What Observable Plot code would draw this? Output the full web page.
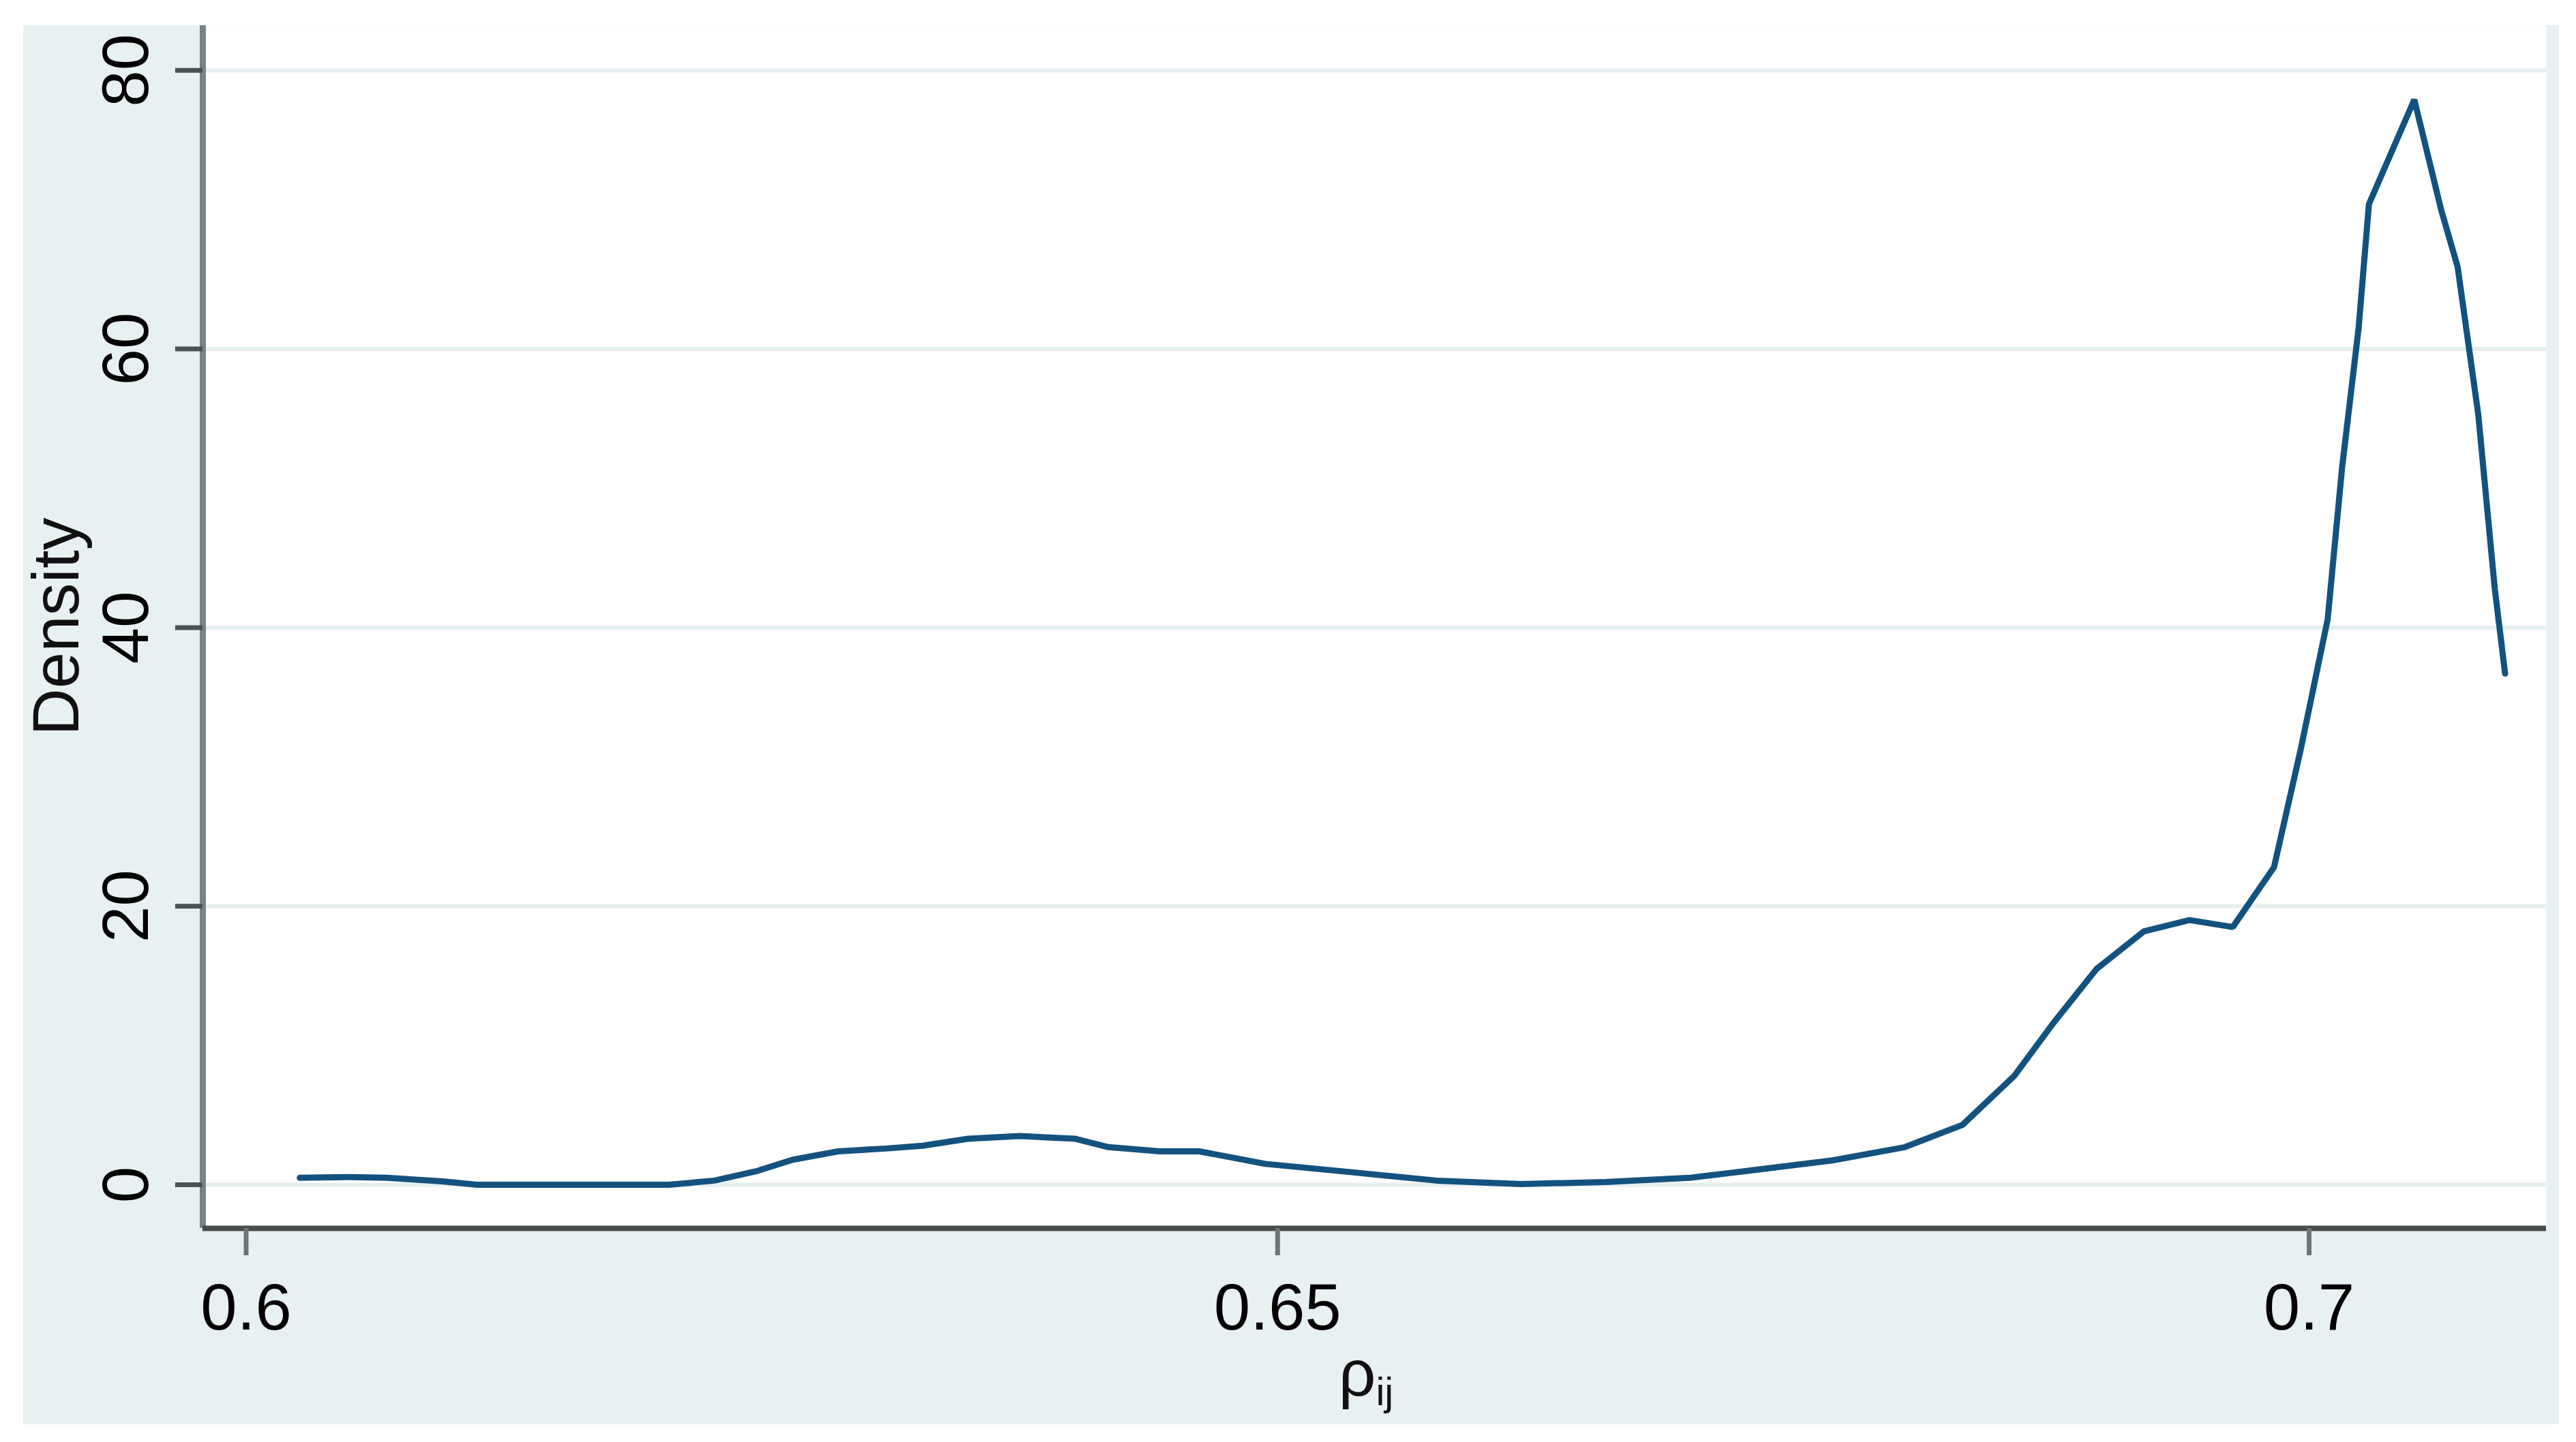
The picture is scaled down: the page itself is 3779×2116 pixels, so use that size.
<!DOCTYPE html>
<html>
<head>
<meta charset="utf-8">
<script src="https://cdn.jsdelivr.net/npm/d3@7"></script>
<script src="https://cdn.jsdelivr.net/npm/@observablehq/plot@0.6"></script>
<style>
  html, body { margin: 0; padding: 0; background: #ffffff; }
  #chart svg { display: block; }
</style>
</head>
<body>
<div id="chart"></div>
<script>
// Kernel density estimate
const rho = [0.6026, 0.6050, 0.6068, 0.6095, 0.6112, 0.6150, 0.6205, 0.6227, 0.6248, 0.6265,
             0.6287, 0.6310, 0.6328, 0.6350, 0.6375, 0.6402, 0.6418, 0.6443, 0.6462, 0.6494,
             0.6536, 0.6577, 0.6618, 0.6659, 0.6700, 0.6728, 0.6769, 0.6804, 0.6832, 0.6857,
             0.6876, 0.6897, 0.6920, 0.6942, 0.6963, 0.6983, 0.6996, 0.7009, 0.7016, 0.7024,
             0.7029, 0.7051, 0.7064, 0.7072, 0.7082, 0.7090, 0.7095];
const density = [0.5, 0.55, 0.5, 0.25, 0.0, 0.0, 0.0, 0.3, 1.0, 1.8,
                 2.4, 2.6, 2.8, 3.3, 3.5, 3.3, 2.7, 2.4, 2.4, 1.5,
                 0.9, 0.3, 0.05, 0.2, 0.5, 1.0, 1.75, 2.7, 4.3, 7.8,
                 11.6, 15.5, 18.2, 19.0, 18.5, 22.8, 31.3, 40.6, 51.5, 61.5,
                 70.4, 77.9, 70.0, 65.9, 55.3, 42.8, 36.7];

const xTicks = [0.6, 0.65, 0.7];
const xTickLabels = ["0.6", "0.65", "0.7"];
const yTicks = [0, 20, 40, 60, 80];
const xDomain = [0.5979, 0.7115];
const yDomain = [-3.13, 83.22];
const xTitle = "ρ";
const xTitleSub = "ij";
const yTitle = "Density";

const data = rho.map((r, i) => ({rho: r, density: density[i]}));

const W = 3779, H = 2116;
const FONT = "'Liberation Sans', Arial, Helvetica, sans-serif";

const plot = Plot.plot({
  width: W,
  height: H,
  marginLeft: 297,
  marginRight: 44,
  marginTop: 37,
  marginBottom: 314,
  x: {domain: xDomain},
  y: {domain: yDomain},
  style: {fontFamily: FONT, fontSize: "96px", background: "transparent", color: "black"},
  marks: [
    Plot.frame({fill: "white", stroke: null}),
    Plot.gridY(yTicks, {stroke: "#e6eff0", strokeOpacity: 1, strokeWidth: 6}),
    Plot.line(data, {x: "rho", y: "density", stroke: "#13527f", strokeWidth: 9, strokeLinejoin: "miter"}),
    Plot.ruleX([xDomain[0]], {stroke: "#7b8282", strokeWidth: 9}),
    Plot.ruleY([yDomain[0]], {stroke: "#474d4d", strokeWidth: 8}),
    Plot.axisY({anchor: "left", ticks: yTicks, tickSize: 40, tickPadding: 41, tickRotate: -90,
                fontSize: 96, stroke: "#4a5252", strokeWidth: 7, label: null, fill: "black"}),
    Plot.axisX({anchor: "bottom", ticks: xTicks, tickSize: 40, tickPadding: 40,
                tickFormat: d => xTickLabels[xTicks.indexOf(d)],
                fontSize: 96, stroke: "#6d7474", strokeWidth: 7, label: null, fill: "black"})
  ]
});

const svg = d3.select(plot);
// outer graph region (light bluish gray)
svg.insert("rect", ":first-child")
  .attr("x", 34).attr("y", 37)
  .attr("width", 3754 - 34).attr("height", 2090 - 37)
  .attr("fill", "#e8f1f2");

const xr = plot.scale("x").range;
const yr = plot.scale("y").range;
const xc = (xr[0] + xr[1]) / 2;
const yc = (yr[0] + yr[1]) / 2;

const xt = svg.append("text")
  .attr("x", xc - 12).attr("y", 2048)
  .attr("text-anchor", "middle")
  .attr("font-family", FONT).attr("font-size", 96).attr("fill", "#111");
xt.append("tspan").text(xTitle);
xt.append("tspan").attr("font-size", 58).attr("dy", 14).text(xTitleSub);

svg.append("text")
  .attr("transform", `translate(115,${yc}) rotate(-90)`)
  .attr("text-anchor", "middle")
  .attr("font-family", FONT).attr("font-size", 96).attr("fill", "#111")
  .text(yTitle);

document.getElementById("chart").appendChild(plot);
</script>
</body>
</html>
